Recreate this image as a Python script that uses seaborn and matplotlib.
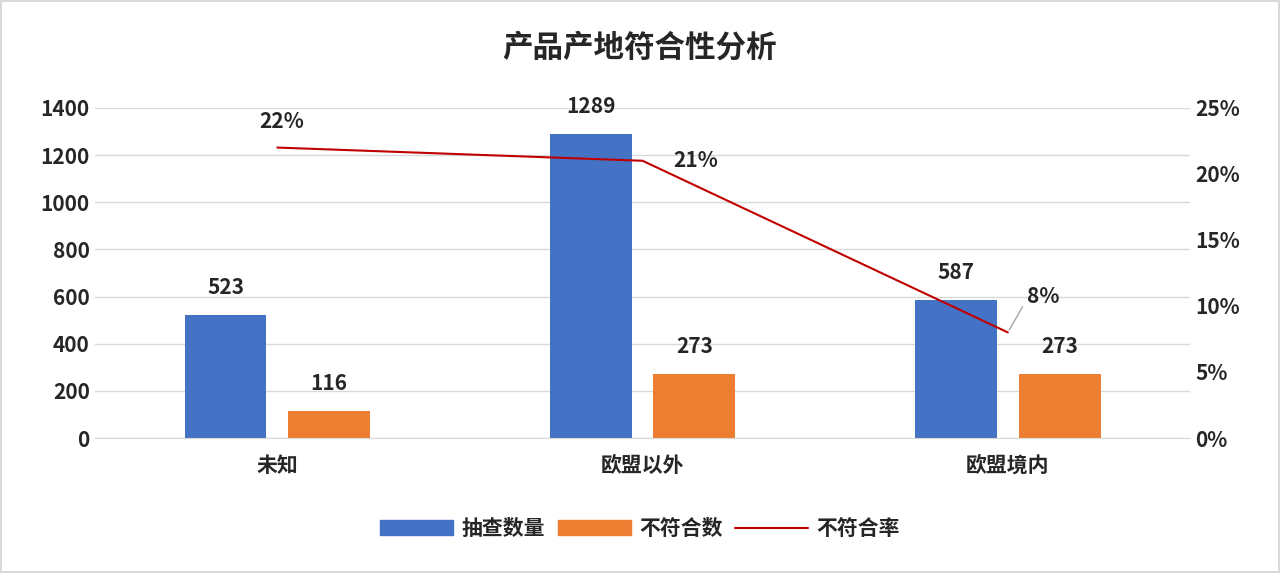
import matplotlib
matplotlib.use("Agg")
import matplotlib.pyplot as plt
import pandas as pd
import seaborn as sns
from matplotlib.lines import Line2D
from matplotlib.patches import Patch

categories = ["未知", "欧盟以外", "欧盟境内"]
sampled = [523, 1289, 587]
noncompliant = [116, 273, 273]
rate = [0.22, 0.21, 0.08]
rate_labels = ["22%", "21%", "8%"]

BLUE, ORANGE, RED = "#4472C4", "#ED7D31", "#C00000"

sns.set_style("white")
plt.rcParams["font.family"] = ["Noto Sans CJK SC", "DejaVu Sans"]
plt.rcParams["font.weight"] = "bold"

df = pd.DataFrame({
    "cat": categories * 2,
    "value": sampled + noncompliant,
    "series": ["抽查数量"] * 3 + ["不符合数"] * 3,
})

fig = plt.figure(figsize=(12.8, 5.73), dpi=100)
fig.patch.set_edgecolor("#D9D9D9")
fig.patch.set_linewidth(1.5)
ax = fig.add_axes([0.074, 0.2356, 0.856, 0.576])

sns.barplot(data=df, x="cat", y="value", hue="series", palette=[BLUE, ORANGE],
            width=0.568, gap=0.21, saturation=1, linewidth=0, ax=ax, legend=False)
ax.set_xlim(-0.5, 2.5)
ax.set_ylim(0, 1400)
ax.set_yticks(range(0, 1401, 200))
ax.yaxis.grid(True, color="#D9D9D9", lw=1)
ax.set_axisbelow(True)
for s in ["top", "right", "left"]:
    ax.spines[s].set_visible(False)
ax.spines["bottom"].set_color("#D9D9D9")
ax.set_xlabel("")
ax.set_ylabel("")
ax.tick_params(axis="both", length=0, labelsize=15)
ax.tick_params(axis="x", pad=12)
for c in ax.containers:
    ax.bar_label(c, padding=12, fontsize=15, fontweight="bold")

ax2 = ax.twinx()
sns.lineplot(x=[0, 1, 2], y=rate, color=RED, lw=1.5, ax=ax2)
ax2.set_ylim(0, 0.25)
ax2.set_yticks([0, 0.05, 0.1, 0.15, 0.2, 0.25])
ax2.set_yticklabels([f"{int(round(v*100))}%" for v in ax2.get_yticks()])
ax2.tick_params(axis="y", length=0, labelsize=15)
for s in ax2.spines.values():
    s.set_visible(False)
ax2.annotate(rate_labels[0], (0, rate[0]), xytext=(3, 14), textcoords="offset points",
             ha="center", fontsize=15, fontweight="bold")
ax2.annotate(rate_labels[1], (1, rate[1]), xytext=(38, 0), textcoords="offset points",
             ha="center", va="center", fontsize=15, fontweight="bold")
ax2.annotate(rate_labels[2], (2, rate[2]), xytext=(14, 26), textcoords="offset points",
             ha="left", va="center", fontsize=15, fontweight="bold",
             arrowprops=dict(arrowstyle="-", color="#A6A6A6", lw=1,
                             connectionstyle="angle,angleA=0,angleB=60,rad=0"))

fig.suptitle("产品产地符合性分析", y=0.945, fontsize=22, fontweight="bold")
handles = [Patch(color=BLUE), Patch(color=ORANGE), Line2D([], [], color=RED, lw=1.5)]
fig.legend(handles, ["抽查数量", "不符合数", "不符合率"], loc="center",
           bbox_to_anchor=(0.5, 0.078), ncol=3, frameon=False, fontsize=15,
           handlelength=3.5, columnspacing=0.6, handletextpad=0.4)

fig.savefig("out.png", dpi=100)
